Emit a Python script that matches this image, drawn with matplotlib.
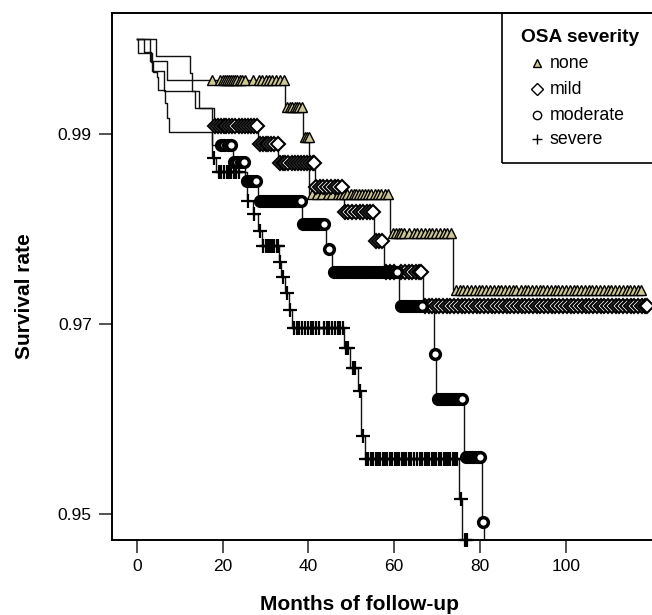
import numpy as np
import matplotlib
matplotlib.use('Agg')
import matplotlib.pyplot as plt
from matplotlib.patches import Rectangle

plt.rcParams['font.family'] = ['Liberation Sans', 'DejaVu Sans']

# Kaplan-Meier steps: drop times, level after each drop, last follow-up
none_t = [0, 3.0, 7.0, 34.5, 38.7, 40.2, 58.9, 73.6]
none_s = [1.0, 0.9977, 0.9956, 0.9928, 0.9897, 0.9837, 0.9795, 0.9736]
none_end = 118.0
none_cens = [17.6, 19.4, 20.0, 20.5, 21.0, 21.4, 21.9, 22.3, 22.8, 23.4, 24.0, 24.5,
             25.3, 27.0, 28.5, 29.2, 30.0, 30.8, 31.6, 32.5, 33.4, 34.3,
             35.0, 35.6, 36.2, 36.8, 37.3, 37.9, 38.5,
             39.2, 39.7, 40.1,
             40.8, 42.0, 43.2, 44.5, 45.5, 46.8, 47.6, 48.4, 49.1, 49.9, 50.6, 51.2,
             51.9, 52.6, 53.3, 54.0, 54.7, 55.5, 56.2, 57.0, 57.8, 58.6,
             59.6, 60.3, 61.0, 61.6, 62.3, 63.4, 64.5, 65.3, 66.2, 67.1, 68.0, 68.9,
             69.8, 70.6, 71.5, 72.4, 73.2,
             74.4, 75.3, 76.1, 77.0, 77.9, 78.8, 79.7, 80.5, 81.4, 82.4, 83.3, 84.1,
             85.0, 85.9, 86.8, 87.6, 88.5, 89.5, 90.4, 91.2, 92.1, 93.0, 93.9, 94.7,
             95.6, 96.6, 97.4, 98.3, 99.2, 100.1, 101.0, 101.8, 102.7, 103.6, 104.5,
             105.4, 106.2, 107.1, 108.0, 108.9, 109.8, 110.6, 111.5, 112.4, 113.3,
             114.2, 115.0, 115.9, 116.8, 117.6]

mild_t = [0, 4.4, 12.4, 12.9, 14.6, 17.9, 28.3, 33.0, 41.5, 48.2, 55.3, 57.5, 66.6]
mild_s = [1.0, 0.9982, 0.9964, 0.9945, 0.9927, 0.9908, 0.9889, 0.9869, 0.9844,
          0.9818, 0.9787, 0.9754, 0.9719]
mild_end = 119.0
mild_cens = [18.1, 18.8, 19.5, 20.2, 20.8, 21.5, 22.1, 22.9, 23.7, 24.4, 25.1, 25.9,
             26.6, 27.3, 28.0,
             28.6, 29.3, 30.0, 30.6, 31.3, 32.0, 32.8,
             33.3, 34.0, 34.6, 35.3, 36.1, 36.8, 37.5, 38.2, 38.9, 39.6, 40.3, 41.0, 41.4,
             41.8, 42.6, 43.4, 44.3, 45.2, 46.1, 47.0, 47.8,
             48.5, 49.3, 50.2, 51.1, 52.0, 52.8, 53.6, 54.4, 55.1,
             55.7, 56.4, 57.2,
             58.0, 59.0, 60.0, 61.5, 62.5, 63.4, 64.2, 65.0, 65.8, 66.3,
             67.2, 68.0, 68.9, 69.7, 70.5, 71.4, 72.3, 73.1, 74.0, 74.9, 75.8, 76.6,
             77.5, 78.4, 79.3, 80.1, 81.0, 81.9, 82.8, 83.6, 84.5, 85.4, 86.3, 87.1,
             88.0, 88.9, 89.8, 90.6, 91.5, 92.4, 93.3, 94.1, 95.0, 95.9, 96.8, 97.6,
             98.5, 99.4, 100.3, 101.1, 102.0, 102.9, 103.8, 104.6, 105.5, 106.4, 107.3,
             108.1, 109.0, 109.9, 110.8, 111.6, 112.5, 113.4, 114.3, 115.1, 116.0,
             116.9, 117.8, 118.5, 119.0]

moderate_t = [0, 0.2, 3.6, 6.4, 13.5, 17.6, 22.3, 25.2, 28.3, 38.4, 44.2, 45.6,
              61.1, 69.2, 69.8, 76.3, 80.4, 81.0]
moderate_s = [1.0, 0.9985, 0.9966, 0.9945, 0.9927, 0.9888, 0.9870, 0.9850, 0.9829,
              0.9805, 0.9779, 0.9754, 0.9719, 0.9668, 0.9621, 0.9560, 0.9491, 0.9400]
moderate_end = 81.0
moderate_cens = [19.6, 20.4, 21.2, 22.0,
                 22.6, 23.4, 24.2, 24.9,
                 25.6, 26.3, 27.0, 27.7,
                 28.6, 29.3, 30.0, 30.7, 31.4, 32.1, 32.8, 33.5, 34.2, 34.9, 35.6,
                 36.3, 37.0, 37.7, 38.2,
                 38.8, 39.5, 40.2, 40.9, 41.6, 42.3, 43.0, 43.7,
                 44.7,
                 46.0, 46.7, 47.4, 48.1, 48.8, 49.5, 50.2, 50.9, 51.6, 52.3, 53.0, 53.7,
                 54.4, 55.1, 55.8, 56.5, 57.2, 57.9, 58.6, 59.3, 60.0, 60.7,
                 61.5, 62.2, 62.9, 63.6, 64.3, 65.0, 65.7, 66.4,
                 69.5,
                 70.2, 70.9, 71.6, 72.3, 73.0, 73.7, 74.4, 75.1, 75.8,
                 76.7, 77.4, 78.1, 78.8, 79.5, 80.1,
                 80.7]

severe_t = [0, 1.6, 3.2, 3.7, 4.6, 5.0, 6.6, 7.0, 7.4, 17.6, 18.5, 25.7, 27.0, 28.3,
            29.2, 33.2, 33.7, 34.6, 35.4, 36.2, 48.3, 49.8, 51.6, 52.3, 53.1, 75.1, 75.9]
severe_s = [1.0, 0.9986, 0.9975, 0.9965, 0.9960, 0.9946, 0.9932, 0.9916, 0.9902,
            0.9874, 0.9860, 0.9829, 0.9815, 0.9798, 0.9782, 0.9765, 0.9749, 0.9732,
            0.9715, 0.9696, 0.9675, 0.9653, 0.9629, 0.9582, 0.9558, 0.9516, 0.9473]
severe_end = 77.3
severe_cens = [18.0,
               19.1, 19.7, 20.3, 20.9, 21.4, 22.0, 22.6, 23.2, 23.8,
               26.0, 27.4, 28.8,
               29.5, 30.0, 30.5, 31.0, 31.5, 32.0, 32.6, 33.0,
               33.4, 34.1, 35.0, 35.8,
               36.7, 37.3, 37.9, 38.6, 39.2, 39.8, 40.5, 41.1, 41.7, 42.4, 43.6, 44.3,
               44.9, 45.5, 46.1, 46.8, 47.4, 48.0,
               48.8, 49.2, 50.4, 50.9, 52.0, 52.7,
               53.5, 54.0, 54.6, 55.1, 55.7, 56.2, 56.8, 57.3, 57.9, 58.4, 59.0, 59.5,
               60.1, 60.6, 61.2, 61.7, 62.3, 62.8, 63.4, 63.9, 64.5, 65.4, 66.0, 66.5,
               67.1, 67.6, 68.2, 68.7, 69.3, 69.8, 70.4, 70.9, 71.5, 72.0, 72.6, 73.1,
               73.7, 74.2, 74.7,
               75.5, 76.5, 76.9]

groups = ['none', 'mild', 'moderate', 'severe']
curves = {
    'none': (none_t, none_s, none_end, none_cens),
    'mild': (mild_t, mild_s, mild_end, mild_cens),
    'moderate': (moderate_t, moderate_s, moderate_end, moderate_cens),
    'severe': (severe_t, severe_s, severe_end, severe_cens),
}
styles = {
    'none': dict(marker='^', ms=6.5, mfc='#cdc795', mec='black', mew=1.0),
    'mild': dict(marker='D', ms=7.5, mfc='white', mec='black', mew=1.5),
    'moderate': dict(marker='o', ms=7, mfc='white', mec='black', mew=2.5),
    'severe': dict(marker='+', ms=10, mfc='none', mec='black', mew=1.6),
}


def level_at(t_list, s_list, t):
    i = np.searchsorted(np.array(t_list), t, side='right') - 1
    return np.array(s_list)[i]


fig = plt.figure(figsize=(6.52, 6.15), dpi=100)
ax = fig.add_axes([112 / 652, 75 / 615, 540 / 652, 527 / 615])

for g in groups:
    t, s, end, cens = curves[g]
    ax.step(list(t) + [end], list(s) + [s[-1]], where='post', color='#111111', lw=1.0)
for g in groups:
    t, s, end, cens = curves[g]
    ax.plot(cens, level_at(t, s, cens), ls='none', clip_on=False, zorder=3, **styles[g])

ax.set_xlim(-5.8, 120.1)
ax.set_ylim(0.94725, 1.0027)
ax.set_xticks([0, 20, 40, 60, 80, 100])
ax.set_yticks([0.95, 0.97, 0.99])
ax.set_yticklabels(['0.95', '0.97', '0.99'])
ax.tick_params(axis='both', direction='out', length=9.5, width=1.2, labelsize=12.5,
               color='#333333')
ax.tick_params(axis='y', pad=5)
ax.tick_params(axis='x', pad=4)
ax.spines['right'].set_visible(False)
for sp in ['left', 'bottom', 'top']:
    ax.spines[sp].set_linewidth(1.4)

ax.set_xlabel('Months of follow-up', fontsize=15, fontweight='bold')
ax.set_ylabel('Survival rate', fontsize=15, fontweight='bold')
ax.xaxis.set_label_coords(0.459, -0.105)
ax.yaxis.set_label_coords(-0.144, 0.463)

# legend box in the upper right corner, running off the right edge
def fx(px):
    return (px - 112) / 540


def fy(py):
    return (540 - py) / 527


ax.add_patch(Rectangle((fx(502), fy(163)), 1.0, fy(13) - fy(163), transform=ax.transAxes,
                       fill=False, edgecolor='black', lw=1.2, clip_on=False, zorder=5))
ax.text(fx(521), fy(38), 'OSA severity', transform=ax.transAxes, fontsize=13.8,
        fontweight='bold', va='center', ha='left')
leg_labels = ['none', 'mild', 'moderate', 'severe']
leg_y = [63, 89, 115, 139]
leg_ms = {'none': 6, 'mild': 6.5, 'moderate': 6, 'severe': 7}
for g, yy in zip(leg_labels, leg_y):
    st = dict(styles[g])
    st['ms'] = leg_ms[g]
    st['mew'] = 1.0
    ax.plot([fx(537)], [fy(yy)], transform=ax.transAxes, ls='none', clip_on=False, **st)
    ax.text(fx(550), fy(yy), g, transform=ax.transAxes, fontsize=12.8, va='center', ha='left')

fig.savefig('out.png', dpi=100)
